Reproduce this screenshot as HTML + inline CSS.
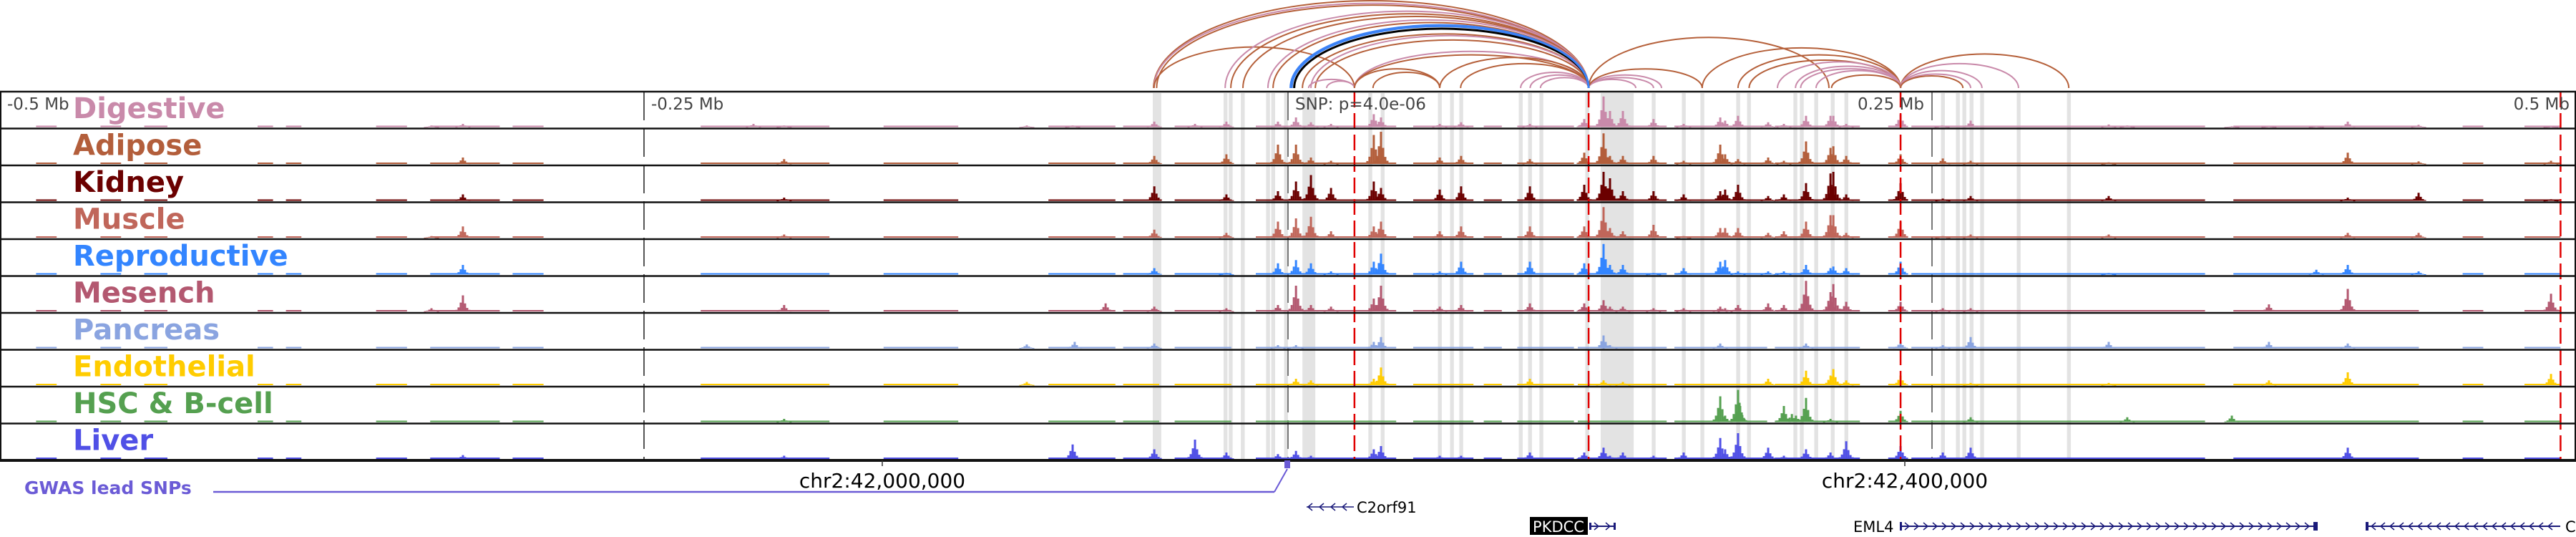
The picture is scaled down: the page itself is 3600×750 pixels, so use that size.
<!DOCTYPE html>
<html><head><meta charset="utf-8"><style>
html,body{margin:0;padding:0;background:#fff}
svg{display:block}
text{font-family:"DejaVu Sans","Liberation Sans",sans-serif}
</style></head><body>
<svg id="chart" width="3600" height="750" viewBox="0 0 3600 750" xmlns="http://www.w3.org/2000/svg">
<rect x="0" y="0" width="3600" height="750" fill="#fff"/>
<g id="highlights"></g>
<g id="vlines"></g>
<g id="signals"></g>
<g id="redlines"></g>
<g id="borders"></g>
<g id="labels"></g>
<g id="arcs"></g>
<g id="axis">
<text x="10" y="153" font-size="23" fill="#444">-0.5 Mb</text>
<text x="910" y="153" font-size="23" fill="#444">-0.25 Mb</text>
<text x="1810" y="153" font-size="23" fill="#444">SNP: p=4.0e-06</text>
<text x="2689" y="153" font-size="23" fill="#444" text-anchor="end">0.25 Mb</text>
<text x="3591" y="153" font-size="23" fill="#444" text-anchor="end">0.5 Mb</text>
<line x1="1233" y1="643" x2="1233" y2="651" stroke="#333" stroke-width="1.5"/>
<line x1="2662" y1="643" x2="2662" y2="651" stroke="#333" stroke-width="1.5"/>
<text x="1233" y="681" font-size="28" text-anchor="middle" fill="#000">chr2:42,000,000</text>
<text x="2662" y="681" font-size="28" text-anchor="middle" fill="#000">chr2:42,400,000</text>
</g>
<g>
<text x="34" y="690" font-size="25" font-weight="bold" fill="#6b5bd6">GWAS lead SNPs</text>
<line x1="298" y1="687" x2="1781" y2="687" stroke="#6b5bd6" stroke-width="2.5"/>
<line x1="1781" y1="687" x2="1799" y2="655" stroke="#6b5bd6" stroke-width="2"/>
<rect x="1795" y="643" width="8" height="11" fill="#6b5bd6"/>
</g>
<g id="genes">
<g>
<line x1="1826" y1="708" x2="1892" y2="708" stroke="#1a1a7a" stroke-width="1.5"/>
<text x="1896" y="716" font-size="21" fill="#000">C2orf91</text>
</g>
<g>
<rect x="2138" y="722" width="81" height="25" fill="#000"/>
<text x="2178" y="743" font-size="21" fill="#fff" text-anchor="middle">PKDCC</text>
<line x1="2221" y1="735" x2="2258" y2="735" stroke="#1a1a7a" stroke-width="2"/>
<rect x="2221" y="730" width="3" height="10" fill="#1a1a7a"/><rect x="2255" y="730" width="3" height="10" fill="#1a1a7a"/>
</g>
<g>
<text x="2590" y="743" font-size="21" fill="#000">EML4</text>
<line x1="2655" y1="735" x2="3237" y2="735" stroke="#1a1a7a" stroke-width="2"/>
<rect x="2655" y="729" width="3" height="12" fill="#1a1a7a"/><rect x="3233" y="729" width="6" height="12" fill="#1a1a7a"/>
</g>
<g>
<line x1="3306" y1="735" x2="3578" y2="735" stroke="#1a1a7a" stroke-width="2"/>
<rect x="3306" y="729" width="4" height="12" fill="#1a1a7a"/>
<text x="3585" y="743" font-size="21" fill="#000">C</text>
</g>
<g id="chevrons"></g>
</g>
</svg>
<script>
// ---- data (positions in kb relative to SNP) ----
const trackNames = ["Digestive","Adipose","Kidney","Muscle","Reproductive","Mesench","Pancreas","Endothelial","HSC & B-cell","Liver"];
const trackColors = ["#c98aaa","#b35e3b","#6b0000","#c0665a","#3385ff","#b35870","#8aa4e0","#ffcc00","#55a050","#5050e6"];
const peaksDigestive = [[-332.5,.05],[-320.3,.1],[-207.5,.1],[-195.6,.05],[-101.4,.05],[-83.6,.05],[-51.9,.17],[-36.1,.1],[-23.9,.17],[-3.9,.17],[3.1,.3],[8.9,.15],[16.7,.1],[33.3,.4],[36.1,.3],[58.9,.1],[67.2,.15],[93.9,.1],[115,.25],[122.5,.95],[125,.5],[130,.5],[141.9,.25],[153.6,.1],[167.8,.3],[169.7,.2],[174.7,.35],[186.4,.15],[192.5,.1],[201.1,.35],[210.6,.35],[211.7,.35],[216.7,.1],[237.8,.4],[253.9,.05],[265,.2],[318.6,.08],[325.8,.05],[366.4,.03],[380.8,.03],[399.2,.03],[411.4,.17],[438.9,.07],[490.3,.02]];
const peaksAdipose = [[-320.3,.2],[-195.6,.15],[-51.9,.25],[-23.9,.3],[-3.9,.6],[3.1,.6],[8.9,.2],[16.7,.1],[33.3,.9],[36.1,1],[58.9,.2],[67.2,.25],[93.9,.15],[115,.35],[122.5,.95],[125,.25],[130,.25],[141.9,.25],[153.6,.1],[167.8,.6],[169.7,.3],[174.7,.15],[186.4,.2],[192.5,.1],[201.1,.7],[210.6,.5],[211.7,.55],[216.7,.25],[237.8,.3],[254.2,.17],[265,.1],[318.6,.05],[411.4,.35],[438.9,.08],[490.3,.1]];
const peaksKidney = [[-320.3,.2],[-195.6,.1],[-51.9,.45],[-23.9,.2],[-3.9,.3],[3.1,.6],[8.9,.8],[16.7,.4],[33.3,.6],[36.1,.4],[58.9,.35],[67.2,.45],[93.9,.45],[115,.5],[122.5,.9],[125,.7],[130,.3],[141.9,.3],[153.6,.2],[167.8,.3],[169.7,.35],[174.7,.5],[186.4,.15],[192.5,.2],[201.1,.55],[210.6,.85],[211.7,.9],[216.7,.2],[237.8,.55],[254.2,.07],[265,.15],[318.6,.15],[411.4,.1],[438.9,.25],[490.3,.05]];
const peaksMuscle = [[-332.5,.05],[-320.3,.35],[-195.6,.1],[-51.9,.25],[-23.9,.15],[-3.9,.5],[3.1,.6],[8.9,.65],[16.7,.2],[33.3,.35],[36.1,.5],[58.9,.2],[67.2,.35],[93.9,.35],[115,.35],[122.5,.95],[125,.3],[130,.2],[141.9,.4],[153.6,.05],[167.8,.3],[169.7,.3],[174.7,.3],[186.4,.15],[192.5,.2],[201.1,.5],[210.6,.7],[211.7,.7],[216.7,.15],[237.8,.5],[254.2,.05],[265,.1],[318.6,.1],[411.4,.15],[438.9,.15]];
const peaksReproductive = [[-320.3,.3],[-51.9,.2],[-23.9,.05],[-3.9,.35],[3.1,.45],[8.9,.35],[16.7,.1],[33.3,.4],[36.1,.65],[58.9,.1],[67.2,.4],[93.9,.4],[115,.35],[122.5,.95],[125,.3],[130,.3],[141.9,.05],[153.6,.2],[167.8,.4],[169.7,.45],[174.7,.1],[186.4,.1],[192.5,.1],[201.1,.3],[210.6,.2],[211.7,.25],[216.7,.2],[237.8,.4],[318.6,.05],[399.2,.15],[411.4,.3],[438.9,.1]];
const peaksMesench = [[-332.5,.1],[-320.3,.5],[-195.6,.2],[-70.8,.25],[-51.9,.15],[-23.9,.1],[-3.9,.2],[3.1,.8],[8.9,.2],[16.7,.15],[33.3,.4],[36.1,.8],[58.9,.15],[67.2,.2],[93.9,.25],[115,.25],[122.5,.35],[125,.15],[130,.15],[141.9,.1],[153.6,.1],[167.8,.15],[169.7,.1],[174.7,.2],[186.4,.25],[192.5,.2],[201.1,.95],[210.6,.6],[211.7,.85],[216.7,.3],[237.8,.3],[254.2,.1],[265,.1],[380.8,.22],[411.4,.7],[490.3,.55]];
const peaksPancreas = [[-101.4,.12],[-82.8,.2],[-51.9,.15],[-3.9,.1],[3.1,.1],[33.3,.2],[36.1,.35],[122.5,.4],[125,.1],[167.8,.15],[201.1,.15],[237.8,.2],[254.2,.1],[265,.35],[318.6,.2],[380.8,.2],[411.4,.15]];
const peaksEndothelial = [[-101.4,.1],[3.1,.2],[8.9,.15],[33.3,.2],[36.1,.55],[93.9,.2],[122.5,.15],[130,.1],[186.4,.2],[201.1,.45],[210.6,.3],[211.7,.5],[216.7,.15],[237.8,.3],[265,.07],[318.6,.07],[380.8,.15],[411.4,.4],[490.3,.35]];
const peaksHSC = [[-195.6,.1],[167.8,.8],[169.7,.2],[174.7,1],[175.3,.6],[192.5,.5],[195.6,.25],[197.2,.2],[201.1,.75],[210.6,.1],[237.8,.35],[265,.15],[325.8,.15],[366.4,.2]];
const peaksLiver = [[-320.3,.12],[-195.6,.1],[-83.6,.45],[-51.9,.3],[-36.1,.6],[-23.9,.2],[-3.9,.15],[3.1,.25],[8.9,.1],[33.3,.3],[36.1,.4],[58.9,.1],[67.2,.1],[93.9,.2],[115,.2],[122.5,.35],[125,.1],[130,.2],[141.9,.1],[153.6,.2],[167.8,.65],[169.7,.3],[174.7,.8],[186.4,.35],[192.5,.1],[201.1,.3],[210.6,.2],[216.7,.55],[237.8,.4],[254.2,.2],[265,.35],[411.4,.35]];
const baselineSegs = [[-486,-478],[-461,-453],[-444,-435],[-400,-394],[-389,-383],[-354,-342],[-333,-306],[-301,-289],[-228,-178],[-157,-128],[-93,-67],[-64,-50],[-44,-22],[-12.5,42],[48.6,72],[76,83],[89,111],[112.5,147],[150,186],[189,222],[233,239],[242,267],[267,356],[367,439],[456,464],[480,494]];
const highlightKb = [[-52.5,-49.2],[-25,-23.5],[-23,-21.5],[-18.3,-16.8],[-8.5,-7],[-6.5,-5],[-1.5,0],[5.6,10.6],[31.2,32.7],[36,37.5],[58.2,59.7],[62.9,64.4],[66.5,68],[89.6,91.1],[93.2,94.7],[97.6,99.1],[115.4,116.9],[121.4,134.2],[141.2,142.7],[152.9,154.4],[160.1,161.6],[174,175.5],[178.2,179.7],[196.2,197.7],[198.7,200.2],[204.3,205.8],[210.7,212.2],[216,217.5],[253.5,255],[259.3,260.8],[261.8,263.3],[264.6,266.1],[268.7,270.2],[282.9,284.4],[302.4,303.9]];
const redLineKb = [25.8,116.7,237.8,494];
const arcColors = ["#b5603a","#c98aaa","#3b82f6","#000000"];
const arcList = [[-52.2,116.7,1.0,0],[-52,116.7,.97,1],[-51,116.7,.95,0],[-52,25.8,.47,0],[-24.4,116.7,.88,1],[-22.2,116.7,.85,0],[-17.5,116.7,.82,0],[-7.8,116.7,.78,1],[-5.8,116.7,.75,0],[5.6,116.7,.62,0],[8.9,116.7,.6,1],[10.6,116.7,.55,0],[25.8,116.7,.42,1],[25.8,116.7,.38,0],[8,25.8,.1,1],[15,25.8,.08,1],[25.8,58.9,.22,0],[33,58.9,.18,0],[58.9,116.7,.35,0],[67,116.7,.28,0],[90.3,116.7,.18,1],[94,116.7,.15,1],[98,116.7,.12,1],[116.7,141.9,.12,1],[116.7,135,.1,1],[116.7,145,.15,1],[116.7,160.8,.22,0],[116.7,210,.58,0],[160.8,237.8,.46,0],[174.7,237.8,.38,0],[179,237.8,.32,0],[190,237.8,.3,1],[197,237.8,.25,1],[199,237.8,.22,1],[205,237.8,.2,1],[211,237.8,.15,0],[237.8,303.1,.39,0],[237.8,283.6,.28,1],[237.8,269.4,.2,1],[237.8,265,.16,1],[237.8,262,.14,0],[1.4,116.7,.71,2],[2.4,116.7,.68,3],[1.0,116.7,.72,2]];
const allPeaks = [peaksDigestive,peaksAdipose,peaksKidney,peaksMuscle,peaksReproductive,peaksMesench,peaksPancreas,peaksEndothelial,peaksHSC,peaksLiver];

// ---- scales ----
const NS = "http://www.w3.org/2000/svg";
const xScale = kb => 1800 + kb * 3.6;
const trackTop = i => 128 + i * 51.5;
const trackH = 51.5;
const maxH = 45;
const yScale = (i, h) => trackTop(i) + trackH - 2 - h * maxH;
function mk(tag, attrs, parent){const e=document.createElementNS(NS,tag);for(const k in attrs)e.setAttribute(k,attrs[k]);parent.appendChild(e);return e;}

const gH = document.getElementById('highlights');
highlightKb.forEach(([a,b]) => {
  const r = mk('rect',{x:xScale(a),y:130,width:Math.max(3,xScale(b)-xScale(a)),height:512,fill:'#e3e3e3'},gH);
  
  
});

const gV = document.getElementById('vlines');
[[-250,'#555'],[0,'#777'],[250,'#777']].forEach(([kb,c]) => {
  const l = mk('line',{x1:xScale(kb),y1:128,x2:xScale(kb),y2:643,stroke:c,'stroke-width':2,'stroke-dasharray':'40 11'},gV);
  
  
});

const gS = document.getElementById('signals');
allPeaks.forEach((peaks, i) => {
  const g = mk('g',{fill:trackColors[i]},gS);
  
  
  const base = trackTop(i) + trackH - 2;
  baselineSegs.forEach(([a,b]) => {
    const r = mk('rect',{x:xScale(a),y:base-2,width:xScale(b)-xScale(a),height:2},g);
    
    
  });
  peaks.forEach(([kb,h]) => {
    const cx = xScale(kb);
    [[0,1],[-3,.55],[3,.5],[-6,.25],[6,.22],[-9,.1],[9,.1]].forEach(([dx,f]) => {
      const y = yScale(i, h*f);
      const r = mk('rect',{x:cx+dx-1.5,y:y,width:3,height:Math.max(1,base-y)},g);
      
      
    });
  });
});

const gR = document.getElementById('redlines');
redLineKb.forEach(kb => {
  const l = mk('line',{x1:xScale(kb),y1:128,x2:xScale(kb),y2:643,stroke:'#e00000','stroke-width':2.5,'stroke-dasharray':'22 8'},gR);
  
  
});

const gB = document.getElementById('borders');
for (let i = 0; i <= 10; i++) {
  const y = trackTop(i);
  const l = mk('line',{x1:0,y1:y,x2:3600,y2:y,stroke:'#111','stroke-width':i===10?4:2.5},gB);
  
  
}
[1,3599].forEach(x => {
  const l = mk('line',{x1:x,y1:128,x2:x,y2:643,stroke:'#111','stroke-width':2},gB);
  
  
});

const gL = document.getElementById('labels');
trackNames.forEach((n,i) => {
  const t = mk('text',{x:102,y:trackTop(i)+37,'font-size':40,'font-weight':'bold',fill:trackColors[i]},gL);
  t.textContent = n;
  
  
});

const gA = document.getElementById('arcs');
arcList.forEach(([a,b,h,c]) => {
  const x1 = xScale(a), x2 = xScale(b), rx = (x2-x1)/2, ry = h*122;
  const p = mk('path',{d:`M${x1},123 A${rx},${ry} 0 0 1 ${x2},123`,fill:'none',stroke:arcColors[c],'stroke-width':c>=2?3:2},gA);
  
  
});

// strand chevrons on gene lines
const gC = document.getElementById('chevrons');
function chevrons(x1, x2, y, dir, step){
  for (let x = x1; x <= x2; x += step) {
    const p = mk('polyline',{points: dir>0 ? `${x-4},${y-5} ${x+2},${y} ${x-4},${y+5}` : `${x+4},${y-5} ${x-2},${y} ${x+4},${y+5}`, fill:'none', stroke:'#1a1a7a','stroke-width':1.5},gC);
    
    
  }
}
chevrons(1830, 1880, 708, -1, 16);
chevrons(2232, 2250, 735, 1, 16);
chevrons(2666, 3225, 735, 1, 13);
chevrons(3316, 3570, 735, -1, 13);
</script>
</body></html>
